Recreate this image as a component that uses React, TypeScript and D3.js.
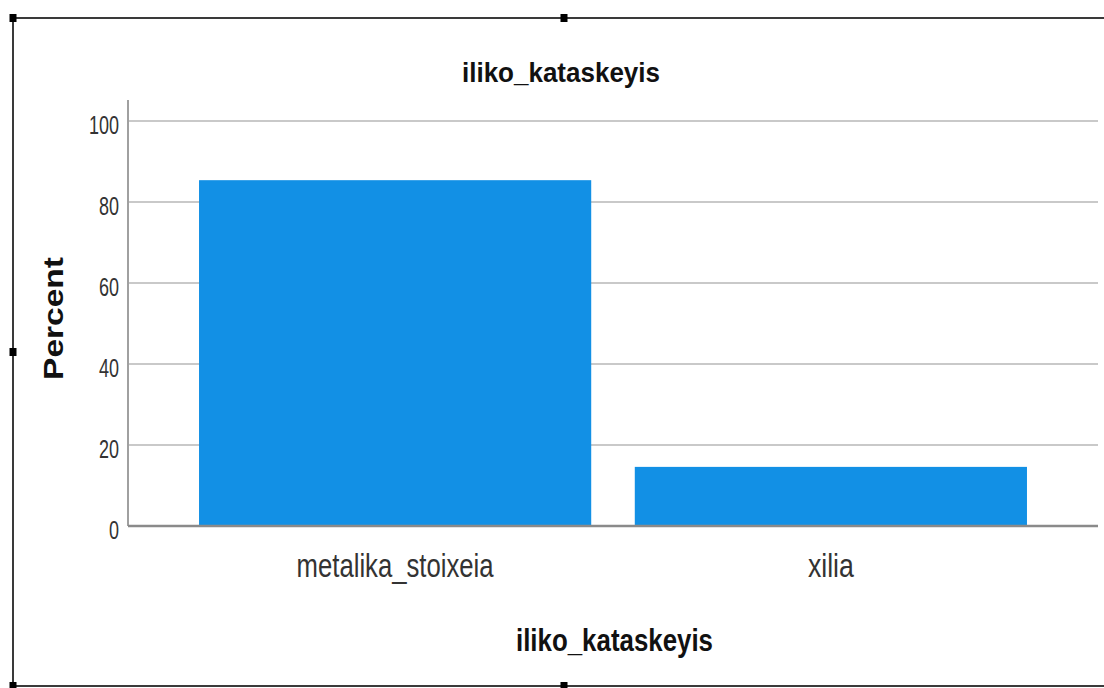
import React from "react";
import * as d3 from "d3";

const categories = ["metalika_stoixeia", "xilia"];
const percentValues = [85.4, 14.6];
const yTicks = [0, 20, 40, 60, 80, 100];
const chartTitle = "iliko_kataskeyis";
const xAxisTitle = "iliko_kataskeyis";
const yAxisTitle = "Percent";

const W = 1104;
const H = 688;
const plotLeft = 128;
const plotRight = 1098;
const plotBottom = 526;
const plotTop = 100;
const categoryLabelWidths = [197, 46];

export default function App() {
  const x = d3
    .scaleBand<string>()
    .domain(categories)
    .range([plotLeft, plotRight])
    .paddingInner(0.1)
    .paddingOuter(0.163);
  const y = d3.scaleLinear().domain([0, 105.2]).range([plotBottom, plotTop]);

  const font = "'Liberation Sans', Arial, Helvetica, sans-serif";
  const handles: [number, number][] = [
    [13, 18],
    [564, 18],
    [13, 352],
    [13, 686],
    [564, 686],
  ];

  return (
    <svg
      width={W}
      height={H}
      style={{ position: "absolute", left: 0, top: 0, background: "#fff" }}
    >
      <rect x={0} y={0} width={W} height={H} fill="#fff" />
      {/* frame */}
      <line x1={13} x2={W} y1={18} y2={18} stroke="#3a3a3a" strokeWidth={2} />
      <line x1={13} x2={13} y1={18} y2={H} stroke="#3a3a3a" strokeWidth={2} />
      <line x1={13} x2={W} y1={686} y2={686} stroke="#3a3a3a" strokeWidth={2} />
      {handles.map(([hx, hy], i) => (
        <rect key={i} x={hx - 3.5} y={hy - 4} width={7} height={8} fill="#000" />
      ))}

      {/* title */}
      <text
        x={561}
        y={82}
        textAnchor="middle"
        fontFamily={font}
        fontWeight="bold"
        fontSize={28}
        fill="#111"
        textLength={198}
        lengthAdjust="spacingAndGlyphs"
      >
        {chartTitle}
      </text>

      {/* gridlines */}
      {yTicks
        .filter((t) => t > 0)
        .map((t) => (
          <line
            key={t}
            x1={plotLeft}
            x2={plotRight}
            y1={y(t)}
            y2={y(t)}
            stroke="#c9c9c9"
            strokeWidth={2}
          />
        ))}

      {/* bars */}
      {categories.map((c, i) => (
        <rect
          key={c}
          x={x(c)}
          y={y(percentValues[i])}
          width={x.bandwidth()}
          height={plotBottom - y(percentValues[i])}
          fill="#1290E5"
        />
      ))}

      {/* axes */}
      <line
        x1={plotLeft}
        x2={plotLeft}
        y1={plotTop}
        y2={plotBottom}
        stroke="#a0a0a0"
        strokeWidth={2}
      />
      <line
        x1={plotLeft}
        x2={plotRight}
        y1={plotBottom}
        y2={plotBottom}
        stroke="#8a8a8a"
        strokeWidth={2.5}
      />

      {/* y tick labels */}
      {yTicks.map((t) => (
        <text
          key={t}
          x={119}
          y={y(t) + 13}
          textAnchor="end"
          fontFamily={font}
          fontSize={25}
          fill="#333"
          textLength={String(t).length * 10}
          lengthAdjust="spacingAndGlyphs"
        >
          {t}
        </text>
      ))}

      {/* category labels */}
      {categories.map((c, i) => (
        <text
          key={c}
          x={(x(c) as number) + x.bandwidth() / 2}
          y={577}
          textAnchor="middle"
          fontFamily={font}
          fontSize={34}
          fill="#333"
          textLength={categoryLabelWidths[i]}
          lengthAdjust="spacingAndGlyphs"
        >
          {c}
        </text>
      ))}

      {/* x axis title */}
      <text
        x={614.5}
        y={651}
        textAnchor="middle"
        fontFamily={font}
        fontWeight="bold"
        fontSize={31}
        fill="#111"
        textLength={197}
        lengthAdjust="spacingAndGlyphs"
      >
        {xAxisTitle}
      </text>

      {/* y axis title */}
      <text
        transform="translate(63,318.5) rotate(-90)"
        textAnchor="middle"
        fontFamily={font}
        fontWeight="bold"
        fontSize={28}
        fill="#111"
        textLength={123}
        lengthAdjust="spacingAndGlyphs"
      >
        {yAxisTitle}
      </text>
    </svg>
  );
}
